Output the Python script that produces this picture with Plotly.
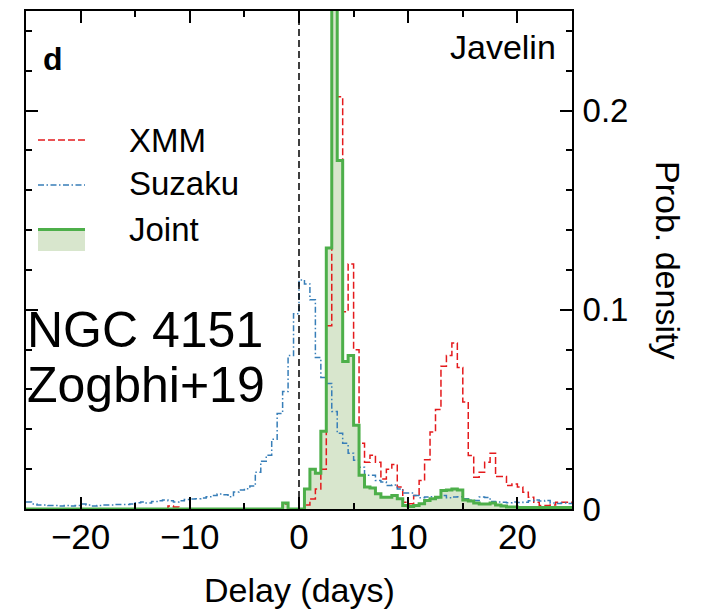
import numpy as np
import plotly.graph_objects as go

# Histogram binning of the lag posteriors (days)
BIN_START, BIN_STOP, BIN_WIDTH = -25.0, 25.0, 0.5

# Probability density per 0.5-day bin, from -25 to +25 days
XMM = [
    0, 0, 0, 0, 0, 0, 0, 0, 0, 0,
    0, 0, 0, 0, 0, 0, 0, 0, 0, 0,
    0, 0, 0, 0, 0, 0, 0.0015, 0.001, 0, 0,
    0, 0, 0, 0, 0, 0, 0, 0, 0, 0,
    0, 0, 0, 0, 0, 0, 0, 0.0025, 0, 0,
    0, 0.002, 0.005, 0.010, 0.020, 0.092, 0.238, 0.207, 0.099, 0.123,
    0.080, 0.033, 0.0235, 0.027, 0.0235, 0.015, 0.020, 0.0224, 0.011, 0.0034,
    0.0026, 0.0068, 0.0143, 0.0247, 0.0386, 0.050, 0.0716, 0.0771, 0.0833, 0.071,
    0.0537, 0.0269, 0.016, 0.0185, 0.0235, 0.028, 0.0163, 0.0163, 0.0118, 0.0125,
    0.011, 0.0084, 0.0059, 0.0034, 0.0018, 0.0018, 0.002, 0.0034, 0.0034, 0.0034,
]

SUZAKU = [
    0.0035, 0.0025, 0.002, 0.002, 0.0018, 0.0018, 0.0015, 0.0018, 0.0015, 0.0018,
    0.0025, 0.002, 0.0015, 0.0018, 0.002, 0.002, 0.0022, 0.0022, 0.0022, 0.0025,
    0.0032, 0.0035, 0.003, 0.0038, 0.0042, 0.0045, 0.0042, 0.0035, 0.0042, 0.0048,
    0.005, 0.0052, 0.0055, 0.0062, 0.0068, 0.0075, 0.0072, 0.0062, 0.0085, 0.0095,
    0.0102, 0.0115, 0.0185, 0.024, 0.027, 0.035, 0.048, 0.059, 0.077, 0.098,
    0.115, 0.113, 0.105, 0.076, 0.066, 0.063, 0.049, 0.038, 0.033, 0.028,
    0.0245, 0.021, 0.017, 0.017, 0.0143, 0.0135, 0.0118, 0.012, 0.0101, 0.008,
    0.008, 0.0068, 0.0056, 0.006, 0.0062, 0.0056, 0.0068, 0.0056, 0.006, 0.0062,
    0.0051, 0.0045, 0.0043, 0.006, 0.0058, 0.0038, 0.0035, 0.0034, 0.0032, 0.0035,
    0.0033, 0.0034, 0.0042, 0.0045, 0.004, 0.0043, 0.003, 0.0028, 0.003, 0.0028,
]

JOINT = [
    0, 0, 0, 0, 0, 0, 0, 0, 0, 0,
    0, 0, 0, 0, 0, 0, 0, 0, 0, 0,
    0, 0, 0, 0, 0, 0, 0, 0, 0, 0,
    0, 0, 0, 0, 0, 0, 0, 0, 0, 0,
    0, 0, 0, 0, 0, 0, 0, 0.003, 0, 0,
    0, 0.010, 0.020, 0.018, 0.039, 0.131, 1.05, 0.175, 0.074, 0.077,
    0.042, 0.017, 0.011, 0.0106, 0.0076, 0.0059, 0.0059, 0.0068, 0.0051, 0.0018,
    0.0013, 0.0018, 0.0026, 0.0043, 0.0051, 0.0059, 0.0093, 0.0096, 0.0101, 0.0095,
    0.0045, 0.004, 0.003, 0.0025, 0.0025, 0.003, 0.002, 0.0015, 0.001, 0.001,
    0.0008, 0.0008, 0.0008, 0.0008, 0.0008, 0.0008, 0.0008, 0.0008, 0.0008, 0.0008,
]

X_TICKS = [-20, -10, 0, 10, 20]
X_TICK_TEXT = ["\u221220", "\u221210", "0", "10", "20"]
Y_TICKS = [0, 0.1, 0.2]
Y_TICK_TEXT = ["0", "0.1", "0.2"]
X_RANGE = [-25, 25]
Y_RANGE = [0, 0.25]

SERIES_NAMES = ["XMM", "Suzaku", "Joint"]

RED = "#e41a1c"
BLUE = "#377eb8"
GREEN = "#4daf4a"
GREEN_FILL = "rgb(216,230,205)"
FONT = "Liberation Sans, Arial, sans-serif"

W, H = 704, 612
M_L, M_R, M_T, M_B = 26, 132, 11, 103
PW, PH = W - M_L - M_R, H - M_T - M_B

edges = np.arange(BIN_START, BIN_STOP + BIN_WIDTH / 2, BIN_WIDTH)


def step(vals):
    """Bin edges and step heights for an 'hv' outline."""
    return list(edges), list(vals) + [vals[-1]]


def px_x(px):
    return (px - M_L) / PW


def px_y(py):
    return (H - M_B - py) / PH


fig = go.Figure()

jx, jy = step(JOINT)
fig.add_trace(go.Scatter(x=jx, y=jy, mode="lines", fill="tozeroy",
                         fillcolor=GREEN_FILL,
                         line=dict(width=0, shape="hv", color=GREEN_FILL),
                         hoverinfo="skip", showlegend=False))

xx, xy = step(XMM)
fig.add_trace(go.Scatter(x=xx, y=xy, mode="lines", name=SERIES_NAMES[0],
                         line=dict(color=RED, width=1.5, shape="hv",
                                   dash="7px,3px"),
                         showlegend=False))

sx, sy = step(SUZAKU)
fig.add_trace(go.Scatter(x=sx, y=sy, mode="lines", name=SERIES_NAMES[1],
                         line=dict(color=BLUE, width=1.5, shape="hv",
                                   dash="6px,2.5px,1.5px,2.5px"),
                         showlegend=False))

fig.add_trace(go.Scatter(x=jx, y=jy, mode="lines", name=SERIES_NAMES[2],
                         line=dict(color=GREEN, width=3, shape="hv"),
                         showlegend=False))

shapes = [
    # zero-lag reference line
    dict(type="line", xref="x", yref="paper", x0=0, x1=0, y0=0, y1=1,
         line=dict(color="black", width=1.5, dash="7px,4px"), layer="above"),
    # legend keys
    dict(type="line", xref="paper", yref="paper",
         x0=px_x(38), x1=px_x(85), y0=px_y(140), y1=px_y(140),
         line=dict(color=RED, width=1.5, dash="7px,3px")),
    dict(type="line", xref="paper", yref="paper",
         x0=px_x(38), x1=px_x(85), y0=px_y(185), y1=px_y(185),
         line=dict(color=BLUE, width=1.5, dash="6px,2.5px,1.5px,2.5px")),
    dict(type="rect", xref="paper", yref="paper",
         x0=px_x(38), x1=px_x(85), y0=px_y(251), y1=px_y(229.5),
         fillcolor=GREEN_FILL, line=dict(width=0)),
    dict(type="line", xref="paper", yref="paper",
         x0=px_x(38), x1=px_x(85), y0=px_y(229.5), y1=px_y(229.5),
         line=dict(color=GREEN, width=3)),
]


def label(text, px, py, size, xanchor="left", angle=0):
    return dict(text=text, xref="paper", yref="paper", x=px_x(px), y=px_y(py),
                xanchor=xanchor, yanchor="middle", showarrow=False,
                textangle=angle, font=dict(size=size, color="black", family=FONT))


annotations = [
    label("<b>d</b>", 41, 59.5, 32),
    label("Javelin", 558, 46.5, 34, xanchor="right"),
    label(SERIES_NAMES[0], 127, 140, 33),
    label(SERIES_NAMES[1], 127, 183.5, 33),
    label(SERIES_NAMES[2], 127, 229.5, 33),
    label("NGC 4151", 25, 330, 50),
    label("Zogbhi+19", 25, 385, 50),
    label("Delay (days)", (M_L + W - M_R) / 2, 590, 34, xanchor="center"),
    label("Prob. density", 668, 260, 34, xanchor="center", angle=90),
]

axis_common = dict(showline=True, linecolor="black", linewidth=2,
                   mirror="ticks", ticks="inside", ticklen=12, tickwidth=1.5,
                   tickcolor="black", showgrid=False, zeroline=False)

fig.update_layout(
    width=W, height=H,
    margin=dict(l=M_L, r=M_R, t=M_T, b=M_B, autoexpand=False),
    paper_bgcolor="white", plot_bgcolor="white",
    font=dict(family=FONT, color="black"),
    showlegend=False,
    shapes=shapes,
    annotations=annotations,
    xaxis=dict(range=X_RANGE, tickmode="array", tickvals=X_TICKS,
               ticktext=X_TICK_TEXT, ticklabelstandoff=-4,
               tickfont=dict(size=35, color="black", family=FONT),
               minor=dict(dtick=5, tick0=0, ticks="inside", ticklen=6,
                          tickwidth=1.5, tickcolor="black"),
               **axis_common),
    yaxis=dict(range=Y_RANGE, side="right", tickmode="array",
               tickvals=Y_TICKS, ticktext=Y_TICK_TEXT, ticklabelstandoff=2,
               tickfont=dict(size=33, color="black", family=FONT),
               minor=dict(dtick=0.02, tick0=0, ticks="inside", ticklen=6,
                          tickwidth=1.5, tickcolor="black"),
               **axis_common),
)

fig.write_html("out.html")
